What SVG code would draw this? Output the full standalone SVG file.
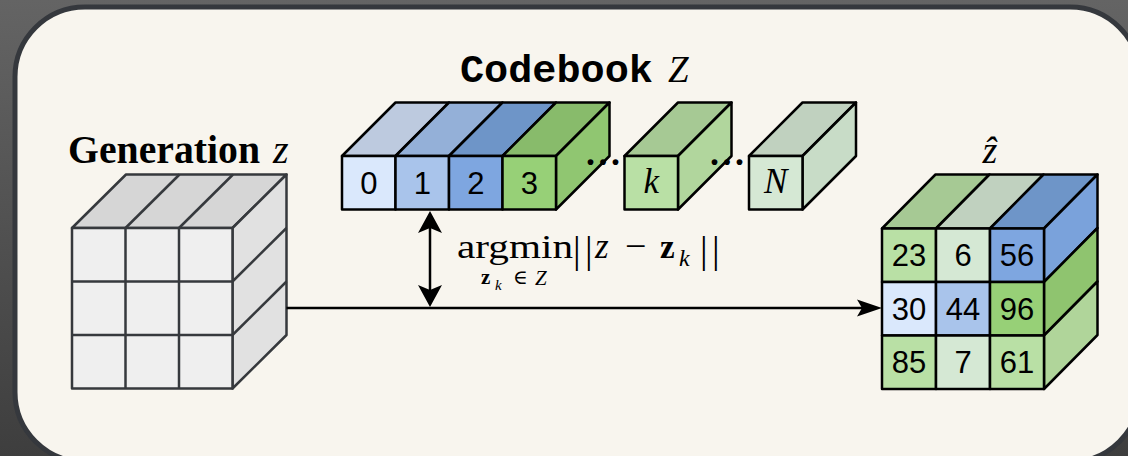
<svg xmlns="http://www.w3.org/2000/svg" width="1128" height="456" viewBox="0 0 1128 456">
  <defs>
    <linearGradient id="bg" x1="0" y1="0" x2="0" y2="1">
      <stop offset="0" stop-color="#646464"/>
      <stop offset="1" stop-color="#3e3e3e"/>
    </linearGradient>
  </defs>
  <style>
    .gray { stroke: #36393d; stroke-width: 2.5; stroke-linejoin: round; }
    .blk { stroke: #000; stroke-width: 2.5; stroke-linejoin: round; }
    .num { font-family: "Liberation Sans", Arial, sans-serif; font-size: 31px; fill: #000; text-anchor: middle; }
    .mi { font-family: "Liberation Serif", "DejaVu Serif", serif; font-style: italic; fill: #000; }
    .rm { font-family: "Liberation Serif", "DejaVu Serif", serif; fill: #000; }
    .dots { font-family: "Liberation Serif", serif; font-weight: bold; font-size: 36px; letter-spacing: 3.5px; fill: #000; }
    .conn { stroke: #000; stroke-width: 2.5; fill: none; }
    .head { fill: #000; stroke: none; }
  </style>

  <rect x="0" y="0" width="1128" height="456" fill="url(#bg)"/>
  <rect x="15" y="7" width="1125" height="455" rx="70" ry="70" fill="#f8f5ee" stroke="#35383d" stroke-width="5"/>

  <!-- Generation z -->
  <g id="generation">
    <text x="68" y="163" font-family="'Liberation Serif', 'Times New Roman', serif" font-weight="bold" font-size="41" textLength="192" lengthAdjust="spacingAndGlyphs" fill="#000">Generation</text>
    <text x="273" y="163" class="mi" font-size="40">z</text>
    <polygon class="gray" fill="#d6d6d6" points="72,228 126,174.5 286.5,174.5 232.5,228"/>
    <polygon class="gray" fill="#e1e1e1" points="232.5,228 286.5,174.5 286.5,335 232.5,388.5"/>
    <rect class="gray" fill="#efefef" x="72" y="228" width="160.5" height="160.5"/>
    <g class="gray" fill="none">
      <line x1="125.5" y1="228" x2="179.5" y2="174.5"/>
      <line x1="179" y1="228" x2="233" y2="174.5"/>
      <line x1="232.5" y1="281.5" x2="286.5" y2="228"/>
      <line x1="232.5" y1="335" x2="286.5" y2="281.5"/>
      <line x1="125.5" y1="228" x2="125.5" y2="388.5"/>
      <line x1="179" y1="228" x2="179" y2="388.5"/>
      <line x1="72" y1="281.5" x2="232.5" y2="281.5"/>
      <line x1="72" y1="335" x2="232.5" y2="335"/>
    </g>
  </g>

  <!-- Codebook -->
  <g id="codebook">
    <text x="460" y="82" font-family="'Liberation Mono', 'Courier New', monospace" font-weight="bold" font-size="39" textLength="193" lengthAdjust="spacingAndGlyphs" fill="#000">Codebook</text>
    <text x="668" y="82" class="mi" font-size="37">Z</text>

    <g id="code-block">
      <polygon class="blk" fill="#bdcadf" points="342,156 395.5,102.5 449,102.5 395.5,156"/>
      <polygon class="blk" fill="#94b0d8" points="395.5,156 449,102.5 502.5,102.5 449,156"/>
      <polygon class="blk" fill="#6e95c8" points="449,156 502.5,102.5 556,102.5 502.5,156"/>
      <polygon class="blk" fill="#88bb6b" points="502.5,156 556,102.5 609.5,102.5 556,156"/>
      <polygon class="blk" fill="#90c671" points="556,156 609.5,102.5 609.5,156 556,209.5"/>
      <rect class="blk" fill="#dae8fc" x="342" y="156" width="53.5" height="53.5"/>
      <rect class="blk" fill="#a9c4eb" x="395.5" y="156" width="53.5" height="53.5"/>
      <rect class="blk" fill="#7ea6e0" x="449" y="156" width="53.5" height="53.5"/>
      <rect class="blk" fill="#97d077" x="502.5" y="156" width="53.5" height="53.5"/>
      <text class="num" x="368.75" y="194">0</text>
      <text class="num" x="422.25" y="194">1</text>
      <text class="num" x="475.75" y="194">2</text>
      <text class="num" x="529.25" y="194">3</text>
    </g>
    <text x="586" y="165" class="dots">...</text>

    <g id="code-k">
      <polygon class="blk" fill="#a6c994" points="624.5,156 678,102.5 731.5,102.5 678,156"/>
      <polygon class="blk" fill="#b1d69d" points="678,156 731.5,102.5 731.5,156 678,209.5"/>
      <rect class="blk" fill="#b9e0a5" x="624.5" y="156" width="53.5" height="53.5"/>
      <text class="mi" x="651.25" y="193" font-size="35" text-anchor="middle">k</text>
    </g>
    <text x="710" y="165" class="dots">...</text>

    <g id="code-N">
      <polygon class="blk" fill="#c0d1bf" points="749,156 802.5,102.5 856,102.5 802.5,156"/>
      <polygon class="blk" fill="#c8dcc7" points="802.5,156 856,102.5 856,156 802.5,209.5"/>
      <rect class="blk" fill="#d5e8d4" x="749" y="156" width="53.5" height="53.5"/>
      <text class="mi" x="775.75" y="193" font-size="35" text-anchor="middle">N</text>
    </g>
  </g>

  <!-- argmin label -->
  <g id="argmin-label">
    <text x="457" y="258" class="rm" font-size="34" textLength="116" lengthAdjust="spacingAndGlyphs">argmin</text>
    <text x="573" y="263" class="rm" font-size="38">|</text>
    <text x="585" y="263" class="rm" font-size="38">|</text>
    <text x="595" y="258" class="mi" font-size="35">z</text>
    <text x="625" y="259" class="rm" font-size="38">−</text>
    <text x="660" y="258" class="rm" font-weight="bold" font-size="33">z</text>
    <text x="679" y="266" class="mi" font-size="24">k</text>
    <text x="700" y="263" class="rm" font-size="38">|</text>
    <text x="712" y="263" class="rm" font-size="38">|</text>
    <text x="481" y="284" class="rm" font-weight="bold" font-size="21">z</text>
    <text x="495" y="290" class="mi" font-size="15">k</text>
    <text x="513" y="284" class="rm" font-size="20">∈</text>
    <text x="535" y="285" class="mi" font-size="21">Z</text>
  </g>

  <!-- Quantized z-hat -->
  <g id="zhat">
    <text x="990" y="163" class="mi" font-size="38" text-anchor="middle">ẑ</text>
    <polygon class="blk" fill="#a6c994" points="882,228.5 935.5,174.5 989.5,174.5 936,228.5"/>
    <polygon class="blk" fill="#c0d1bf" points="936,228.5 989.5,174.5 1043.5,174.5 990,228.5"/>
    <polygon class="blk" fill="#6e95c8" points="990,228.5 1043.5,174.5 1097.5,174.5 1044,228.5"/>
    <polygon class="blk" fill="#7aa2db" points="1044,228.5 1097.5,174.5 1097.5,228 1044,282"/>
    <polygon class="blk" fill="#8fc46f" points="1044,282 1097.5,228 1097.5,281.5 1044,335.5"/>
    <polygon class="blk" fill="#b0d59a" points="1044,335.5 1097.5,281.5 1097.5,335 1044,389"/>
    <rect class="blk" fill="#b9e0a5" x="882" y="228.5" width="54" height="53.5"/>
    <rect class="blk" fill="#d5e8d4" x="936" y="228.5" width="54" height="53.5"/>
    <rect class="blk" fill="#7ea6e0" x="990" y="228.5" width="54" height="53.5"/>
    <rect class="blk" fill="#dae8fc" x="882" y="282" width="54" height="53.5"/>
    <rect class="blk" fill="#a9c4eb" x="936" y="282" width="54" height="53.5"/>
    <rect class="blk" fill="#97d077" x="990" y="282" width="54" height="53.5"/>
    <rect class="blk" fill="#b9e0a5" x="882" y="335.5" width="54" height="53.5"/>
    <rect class="blk" fill="#d5e8d4" x="936" y="335.5" width="54" height="53.5"/>
    <rect class="blk" fill="#b9e0a5" x="990" y="335.5" width="54" height="53.5"/>
    <text class="num" x="909" y="266">23</text>
    <text class="num" x="963" y="266">6</text>
    <text class="num" x="1017" y="266">56</text>
    <text class="num" x="909" y="319.5">30</text>
    <text class="num" x="963" y="319.5">44</text>
    <text class="num" x="1017" y="319.5">96</text>
    <text class="num" x="909" y="373">85</text>
    <text class="num" x="963" y="373">7</text>
    <text class="num" x="1017" y="373">61</text>
  </g>

  <!-- Connectors -->
  <g id="connectors">
    <line class="conn" x1="286.5" y1="308" x2="864" y2="308"/>
    <polygon class="head" points="882,308 857,299.5 862,308 857,316.5"/>
    <line class="conn" x1="430" y1="226" x2="430" y2="292"/>
    <polygon class="head" points="430,211 418,233 430,228 442,233"/>
    <polygon class="head" points="430,307 418,285 430,290 442,285"/>
  </g>
</svg>
